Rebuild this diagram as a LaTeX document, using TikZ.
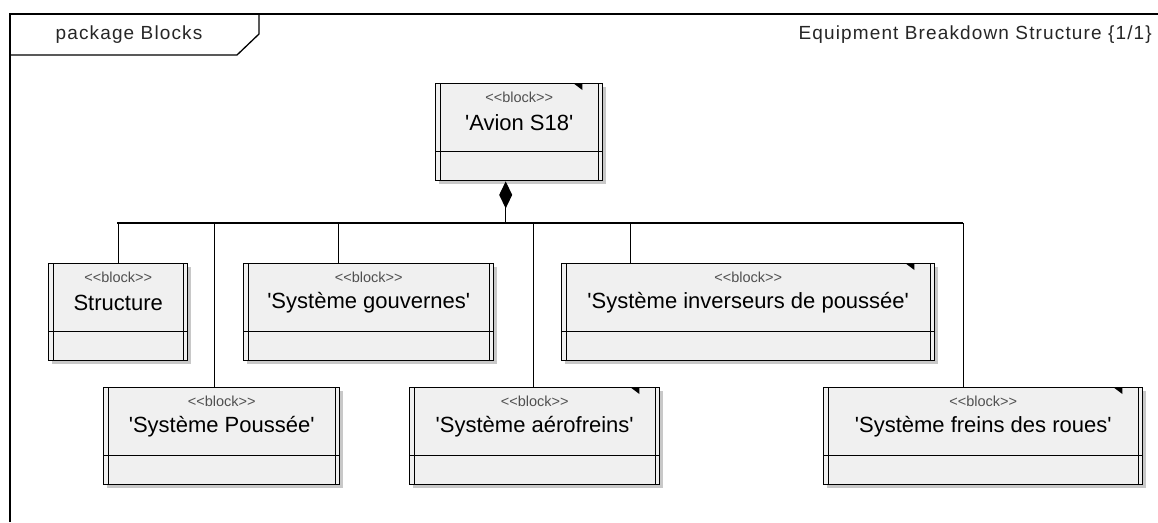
\documentclass[tikz,border=0pt]{standalone}
\usepackage{fontspec}
\setmainfont{Liberation Sans}
\newfontfamily\hdrfont{Liberation Sans}[LetterSpace=6]
\usepackage{xcolor}
\usetikzlibrary{arrows.meta}
\definecolor{blkfill}{HTML}{F0F0F0}
\definecolor{blkshd}{HTML}{C8C8C8}
\definecolor{stgray}{HTML}{505050}
\tikzset{
  frm/.style={line width=1.3pt},
  blk/.style={draw,line width=1.4pt,fill=blkfill,minimum height=97pt,inner sep=0pt,anchor=north west},
  inl/.style={line width=1pt},
  shd/.style={fill=blkshd},
  lnk/.style={line width=1.1pt},
  cmp/.style={line width=1.1pt,{Diamond[length=27pt,width=13pt]}-},
  ster/.style={font=\fontsize{14.5}{16}\selectfont,text=stgray,inner sep=0pt},
  nm/.style={font=\fontsize{22}{26}\selectfont,inner sep=0pt},
  hdr/.style={font=\hdrfont\fontsize{19}{23}\selectfont,text=black!85,inner sep=0pt}
}
\newcommand{\qt}[1]{\textquotesingle#1\textquotesingle}
\newcommand{\blk}[5]{%
  \fill[shd] (#2+4,#3+4) rectangle ++(#4,97);
  \node[blk,minimum width=#4pt] (#1) at (#2,#3) {};
  \draw[inl] ([xshift=5pt]#1.north west) -- ([xshift=5pt]#1.south west);
  \draw[inl] ([xshift=-5pt]#1.north east) -- ([xshift=-5pt]#1.south east);
  \draw[inl] ([yshift=-68pt]#1.north west) -- ([yshift=-68pt]#1.north east);
  \node[ster] (#1-st) at ([yshift=-14pt]#1.north) {{<}{<}block{>}{>}};
  \node[nm] (#1-nm) at ([yshift=-40pt]#1.north) {#5};
}
\newcommand{\flg}[1]{\fill ([xshift=-29pt,yshift=-1pt]#1.north east) -- ++(8pt,0pt) -- ++(0pt,-6pt) -- cycle;}

\begin{document}
\begin{tikzpicture}[x=1pt,y=-1pt]
\useasboundingbox (0,0) rectangle (1158,522);
% frame
\draw[frm] (10,522) -- (10,14) -- (1158,14);
\draw[frm] (259,14) -- (259,34) -- (237,55) -- (10,55);
\node[hdr] (pkg) at (129,35) {package Blocks};
\node[hdr,anchor=east] (ebs) at (1152,35) {Equipment Breakdown Structure \{1/1\}};
% blocks
\blk{avion}{435}{83}{167}{\qt{Avion S18}}
\blk{struct}{48}{263}{139}{Structure}
\blk{gouv}{243}{263}{250}{\qt{Système gouvernes}}
\blk{invers}{561}{263}{373}{\qt{Système inverseurs de poussée}}
\blk{pouss}{103}{387}{236}{\qt{Système Poussée}}
\blk{aero}{409}{387}{250}{\qt{Système aérofreins}}
\blk{freins}{823}{387}{319}{\qt{Système freins des roues}}
\flg{avion} \flg{invers} \flg{aero} \flg{freins}
% tree
\coordinate (busL) at (117,223);
\coordinate (busR) at (963,223);
\draw[lnk] (busL) -- (busR);
\draw[cmp] ([xshift=-13.5pt]avion.south) coordinate (ag) -- (ag |- busL);
\draw[lnk] (struct.north) -- (struct.north |- busL);
\draw[lnk] ([xshift=-30pt]gouv.north) coordinate (g1) -- (g1 |- busL);
\draw[lnk] ([xshift=-117.5pt]invers.north) coordinate (i1) -- (i1 |- busL);
\draw[lnk] ([xshift=-7pt]pouss.north) coordinate (p1) -- (p1 |- busL);
\draw[lnk] ([xshift=-1pt]aero.north) coordinate (a1) -- (a1 |- busL);
\draw[lnk] ([xshift=-19.5pt]freins.north) coordinate (f1) -- (f1 |- busL);
\end{tikzpicture}
\end{document}
